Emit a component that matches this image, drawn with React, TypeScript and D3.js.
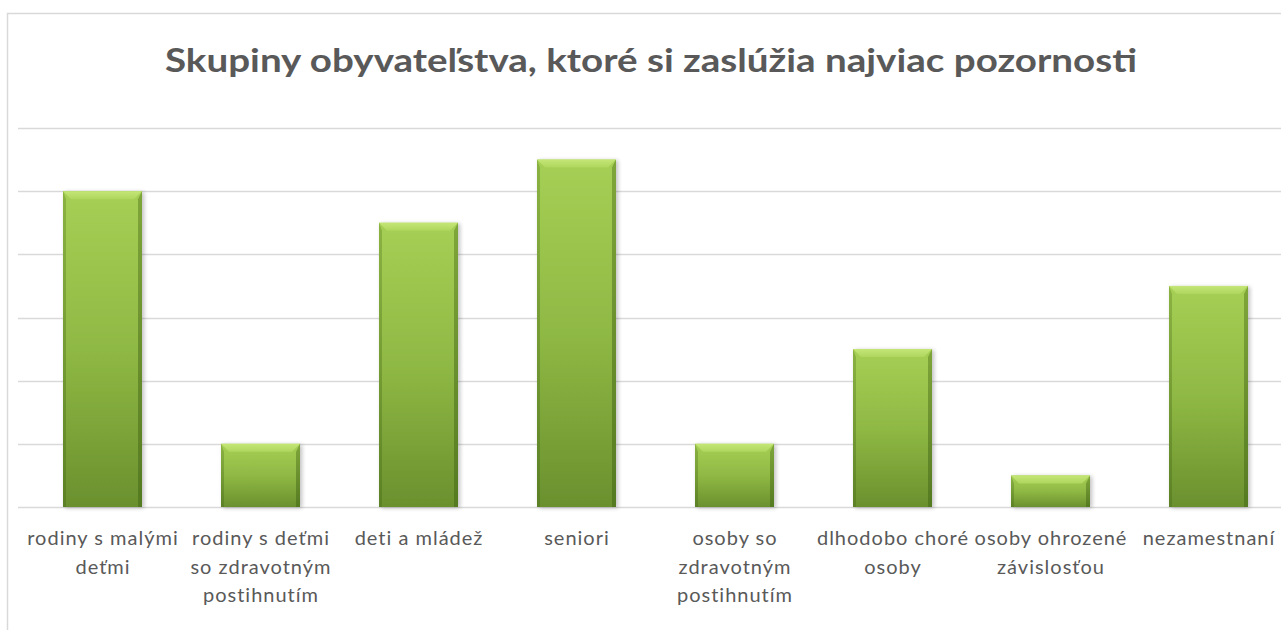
import React from "react";
import * as d3 from "d3";

const title = "Skupiny obyvateľstva, ktoré si zaslúžia najviac pozornosti";
const categories = [
  "rodiny s malými deťmi",
  "rodiny s deťmi so zdravotným postihnutím",
  "deti a mládež",
  "seniori",
  "osoby so zdravotným postihnutím",
  "dlhodobo choré osoby",
  "osoby ohrozené závislosťou",
  "nezamestnaní",
];
const labelLines = [
  ["rodiny s malými", "deťmi"],
  ["rodiny s deťmi", "so zdravotným", "postihnutím"],
  ["deti a mládež"],
  ["seniori"],
  ["osoby so", "zdravotným", "postihnutím"],
  ["dlhodobo choré", "osoby"],
  ["osoby ohrozené", "závislosťou"],
  ["nezamestnaní"],
];
const values = [10, 2, 9, 11, 2, 5, 1, 7];
const gridTicks = [0, 2, 4, 6, 8, 10, 12];

export default function App() {
  const W = 1281, H = 630;
  const x = d3.scaleBand<string>().domain(categories).range([23.5, 1287.5]).paddingInner(0.5).paddingOuter(0.25);
  const y = d3.scaleLinear().domain([0, 12]).range([507, 128]);
  const bw = x.bandwidth();
  const textColor = "#595959";
  return (
    <svg width={W} height={H} style={{ position: "absolute", left: 0, top: 0, background: "#fff" }}>
      <defs>
        <linearGradient id="barGrad" x1="0" y1="0" x2="0" y2="1">
          <stop offset="0" stopColor="#a6cf55" />
          <stop offset="0.5" stopColor="#8fb944" />
          <stop offset="1" stopColor="#6a902e" />
        </linearGradient>
        <linearGradient id="sideGrad" x1="0" y1="0" x2="0" y2="1">
          <stop offset="0" stopColor="#7fa63a" />
          <stop offset="1" stopColor="#557a22" />
        </linearGradient>
        <linearGradient id="topGrad" x1="0" y1="0" x2="0" y2="1">
          <stop offset="0" stopColor="#c4e676" />
          <stop offset="1" stopColor="#afd65e" />
        </linearGradient>
        <filter id="shadow" x="-20%" y="-20%" width="140%" height="140%">
          <feGaussianBlur in="SourceAlpha" stdDeviation="2" />
          <feOffset dx="2" dy="1" result="b" />
          <feComponentTransfer><feFuncA type="linear" slope="0.25" /></feComponentTransfer>
          <feMerge><feMergeNode /><feMergeNode in="SourceGraphic" /></feMerge>
        </filter>
      </defs>
      <rect x={7.5} y={13.5} width={W} height={H} fill="#fff" stroke="#d9d9d9" strokeWidth={1.5} />
      <text x={651} y={72} textAnchor="middle" fontFamily="Lato, 'Open Sans', sans-serif" fontWeight={700} fontSize={33} fill={textColor} textLength={972} lengthAdjust="spacingAndGlyphs" style={{ whiteSpace: "pre" }}>
        {title}
      </text>
      {gridTicks.map((t) => (
        <line key={t} x1={18} x2={W} y1={Math.round(y(t)) + 0.5} y2={Math.round(y(t)) + 0.5} stroke="#d9d9d9" strokeWidth={1.5} />
      ))}
      {categories.map((c, i) => {
        const x0 = x(c)!;
        const y0 = y(values[i]);
        const h = y(0) - y0;
        const b = Math.min(8, h / 3);
        const s = 3;
        return (
          <g key={c} filter="url(#shadow)">
            <rect x={x0} y={y0} width={bw} height={h} fill="url(#barGrad)" />
            <polygon points={`${x0},${y0} ${x0 + bw},${y0} ${x0 + bw - b},${y0 + b} ${x0 + b},${y0 + b}`} fill="url(#topGrad)" />
            <polygon points={`${x0},${y0} ${x0 + s},${y0 + b} ${x0 + s},${y0 + h} ${x0},${y0 + h}`} fill="url(#sideGrad)" opacity={0.7} />
            <polygon points={`${x0 + bw},${y0} ${x0 + bw - s - 1},${y0 + b} ${x0 + bw - s - 1},${y0 + h} ${x0 + bw},${y0 + h}`} fill="url(#sideGrad)" />
          </g>
        );
      })}
      {categories.map((c, i) => (
        <text key={c} textAnchor="middle" fontFamily="Lato, 'Open Sans', sans-serif" fontSize={20} letterSpacing={1} fill={textColor}>
          {labelLines[i].map((l, j) => (
            <tspan key={j} x={x(c)! + bw / 2 + 0.5} y={545 + j * 28.5}>{l}</tspan>
          ))}
        </text>
      ))}
    </svg>
  );
}
